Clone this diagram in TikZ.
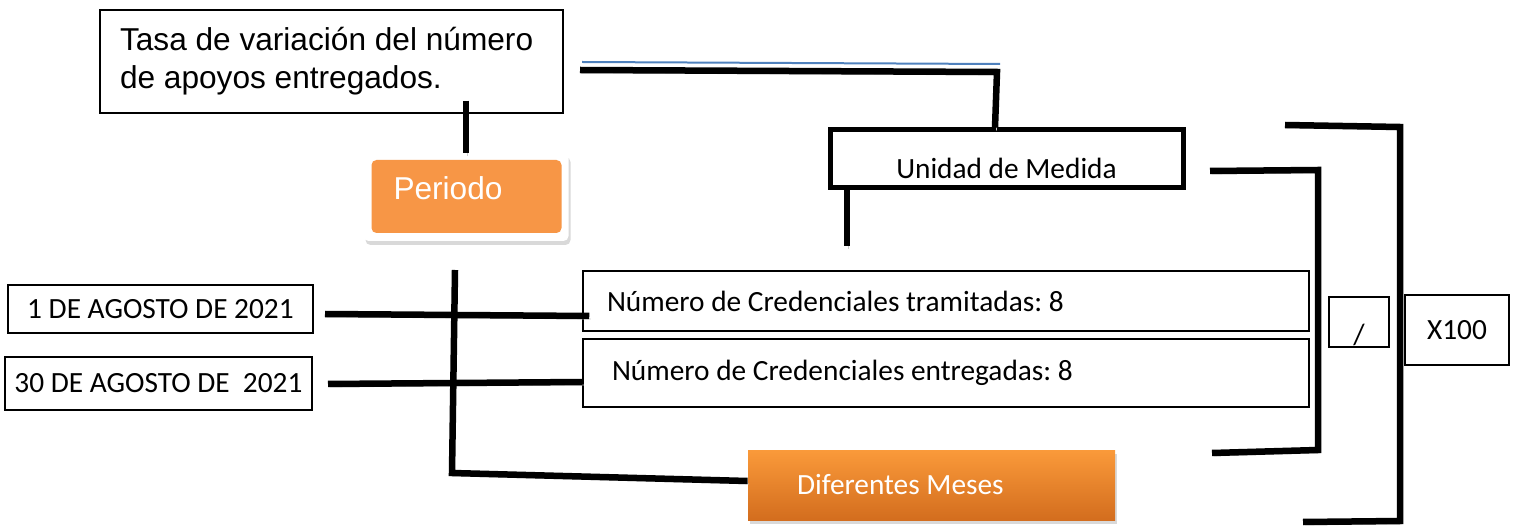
\documentclass[tikz,border=0pt]{standalone}
\usepackage{fontspec}
\setmainfont{Carlito}
\newfontfamily\arialfont{Liberation Sans}
\usetikzlibrary{shadows}
\definecolor{periodoorange}{HTML}{F79646}
\definecolor{mesestop}{HTML}{FA9A3A}
\definecolor{mesesbottom}{HTML}{D36D1E}
\definecolor{linkblue}{HTML}{4F81BD}

\begin{document}
\begin{tikzpicture}
            [font=\fontsize{16.7}{20}\selectfont\frenchspacing,
             box/.style={shape=rectangle, draw=black, line width=0.03cm, inner sep=0pt},
             bar/.style={line width=0.13cm, draw=black,
                 preaction={draw=black!20, transform canvas={shift={(0.03,-0.06)}}}},
             orangebox/.style={shape=rectangle, text=white, align=flush left,
                 drop shadow={opacity=0.3, shadow xshift=0.04cm, shadow yshift=-0.08cm}}]
            \useasboundingbox (0, 0) rectangle (30.3, 10.56);

            \node[box, minimum width=9.26cm, minimum height=2.06cm, text width=8.46cm, align=flush left,
                  font=\arialfont\fontsize{18}{21.5}\selectfont] (tasa) at (6.63, 9.33)
                  {Tasa de variación del número\\de apoyos entregados.};
            \node[orangebox, fill=white, rounded corners=0.1cm, minimum height=1.76cm,
                  inner xsep=0.6cm, inner ysep=0pt, text width=2.9cm, text height=0.46cm, text depth=0.34cm,
                  font=\arialfont\fontsize{18}{21.5}\selectfont,
                  path picture={\fill[periodoorange]
                      ([shift={(0.16,0.16)}]path picture bounding box.south west) rectangle
                      ([shift={(-0.14,-0.14)}]path picture bounding box.north east);}]
                  (periodo) at (9.32, 6.62) {Periodo};
            \node[box, line width=0.1cm, minimum width=7.06cm, minimum height=1.16cm,
                  text height=0.85cm, text depth=0.08cm] (unidad) at (20.13, 7.38) {Unidad de Medida};
            \node[box, minimum width=6.10cm, minimum height=0.96cm] (inicio) at (3.21, 4.38) {1 DE AGOSTO DE 2021};
            \node[box, minimum width=6.14cm, minimum height=1.06cm] (fin) at (3.17, 2.89) {30 DE AGOSTO DE \ 2021};
            \node[box, minimum height=1.2cm, inner xsep=0.48cm, text width=13.56cm, align=flush left]
                  (tramitadas) at (18.92, 4.54) {Número de Credenciales tramitadas: 8};
            \node[box, minimum height=1.36cm, inner xsep=0.58cm, text width=13.36cm, align=flush left]
                  (entregadas) at (18.92, 3.10) {Número de Credenciales entregadas: 8};
            \node[orangebox, top color=mesestop, bottom color=mesesbottom, minimum height=1.4cm,
                  inner xsep=0.98cm, text width=5.38cm] (meses) at (18.63, 0.86) {Diferentes Meses};
            \node[box, minimum width=1.2cm, minimum height=1.0cm, text height=0.95cm, text depth=0.05cm]
                  (division) at (27.18, 4.12) {/};
            \node[box, minimum width=2.08cm, minimum height=1.4cm] (porcien) at (29.14, 3.96) {X100};

            \coordinate (lineastart) at (11.6, 9.16);
            \coordinate (unidadfoot) at (16.94, 5.64);
            \coordinate (iniciostart) at (6.5, 4.28);
            \coordinate (finstart) at (6.56, 2.88);
            \coordinate (periodofoot) at (9.1, 5.16);

            \draw[linkblue, line width=0.04cm] (11.64, 9.32) -- (20.0, 9.28);
            \draw[bar] (lineastart) -- (19.94, 9.12) -- ([xshift=-0.23cm]unidad.north);
            \draw[bar] ([yshift=0.26cm]tasa.south -| periodo.north) -- (periodo.north);
            \draw[bar] (unidad.south west -| unidadfoot) -- (unidadfoot);
            \draw[bar] (iniciostart) -- ([shift={(0.14,-0.3)}]tramitadas.west);
            \draw[bar] (finstart) -- ([yshift=-0.18cm]entregadas.west);
            \draw[bar] (periodofoot) -- (9.04, 1.1) -- ([yshift=0.08cm]meses.west);

            % corchetes
            \draw[bar] (24.2, 7.14) -- (26.36, 7.16) -- (26.36, 1.56) -- (24.24, 1.5);
            \draw[bar] (25.7, 8.06) -- (28.0, 8.02) -- (28.0, 0.14) -- (26.06, 0.12);
        \end{tikzpicture}
\end{document}
